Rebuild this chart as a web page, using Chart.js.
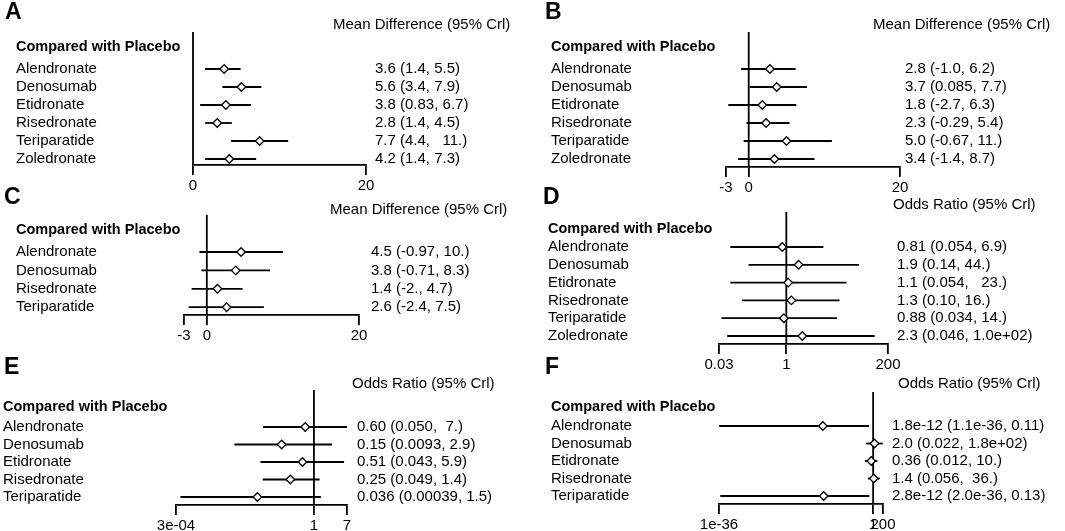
<!DOCTYPE html>
<html>
<head>
<meta charset="utf-8">
<script src="https://cdn.jsdelivr.net/npm/chart.js@4.4.1/dist/chart.umd.min.js"></script>
<style>
  html, body { margin: 0; padding: 0; background: #fff; }
  #wrap { position: relative; width: 1065px; height: 531px; overflow: hidden; }
  #wrap canvas { position: absolute; }
</style>
</head>
<body>
<div id="wrap"></div>
<script>
const FONT = '"Liberation Sans", Arial, sans-serif';

// A - mean difference
const aNames = ['Alendronate', 'Denosumab', 'Etidronate', 'Risedronate', 'Teriparatide', 'Zoledronate'];
const aMean = [3.6, 5.6, 3.8, 2.8, 7.7, 4.2];
const aLow = [1.4, 3.4, 0.83, 1.4, 4.4, 1.4];
const aHigh = [5.5, 7.9, 6.7, 4.5, 11, 7.3];
const aText = ['3.6 (1.4, 5.5)', '5.6 (3.4, 7.9)', '3.8 (0.83, 6.7)', '2.8 (1.4, 4.5)', '7.7 (4.4,   11.)', '4.2 (1.4, 7.3)'];
const aTicks = [0, 20];
const aTickLabels = ['0', '20'];

// B - mean difference
const bNames = ['Alendronate', 'Denosumab', 'Etidronate', 'Risedronate', 'Teriparatide', 'Zoledronate'];
const bMean = [2.8, 3.7, 1.8, 2.3, 5.0, 3.4];
const bLow = [-1.0, 0.085, -2.7, -0.29, -0.67, -1.4];
const bHigh = [6.2, 7.7, 6.3, 5.4, 11, 8.7];
const bText = ['2.8 (-1.0, 6.2)', '3.7 (0.085, 7.7)', '1.8 (-2.7, 6.3)', '2.3 (-0.29, 5.4)', '5.0 (-0.67, 11.)', '3.4 (-1.4, 8.7)'];
const bTicks = [-3, 0, 20];
const bTickLabels = ['-3', '0', '20'];

// C - mean difference
const cNames = ['Alendronate', 'Denosumab', 'Risedronate', 'Teriparatide'];
const cMean = [4.5, 3.8, 1.4, 2.6];
const cLow = [-0.97, -0.71, -2, -2.4];
const cHigh = [10, 8.3, 4.7, 7.5];
const cText = ['4.5 (-0.97, 10.)', '3.8 (-0.71, 8.3)', '1.4 (-2., 4.7)', '2.6 (-2.4, 7.5)'];
const cTicks = [-3, 0, 20];
const cTickLabels = ['-3', '0', '20'];

// D - odds ratio
const dNames = ['Alendronate', 'Denosumab', 'Etidronate', 'Risedronate', 'Teriparatide', 'Zoledronate'];
const dMean = [0.81, 1.9, 1.1, 1.3, 0.88, 2.3];
const dLow = [0.054, 0.14, 0.054, 0.10, 0.034, 0.046];
const dHigh = [6.9, 44, 23, 16, 14, 100];
const dText = ['0.81 (0.054, 6.9)', '1.9 (0.14, 44.)', '1.1 (0.054,   23.)', '1.3 (0.10, 16.)', '0.88 (0.034, 14.)', '2.3 (0.046, 1.0e+02)'];
const dTicks = [0.03, 1, 200];
const dTickLabels = ['0.03', '1', '200'];

// E - odds ratio
const eNames = ['Alendronate', 'Denosumab', 'Etidronate', 'Risedronate', 'Teriparatide'];
const eMean = [0.60, 0.15, 0.51, 0.25, 0.036];
const eLow = [0.050, 0.0093, 0.043, 0.049, 0.00039];
const eHigh = [7, 2.9, 5.9, 1.4, 1.5];
const eText = ['0.60 (0.050,  7.)', '0.15 (0.0093, 2.9)', '0.51 (0.043, 5.9)', '0.25 (0.049, 1.4)', '0.036 (0.00039, 1.5)'];
const eTicks = [3e-4, 1, 7];
const eTickLabels = ['3e-04', '1', '7'];

// F - odds ratio
const fNames = ['Alendronate', 'Denosumab', 'Etidronate', 'Risedronate', 'Teriparatide'];
const fMean = [1.8e-12, 2.0, 0.36, 1.4, 2.8e-12];
const fLow = [1.1e-36, 0.022, 0.012, 0.056, 2.0e-36];
const fHigh = [0.11, 180, 10, 36, 0.13];
const fText = ['1.8e-12 (1.1e-36, 0.11)', '2.0 (0.022, 1.8e+02)', '0.36 (0.012, 10.)', '1.4 (0.056,  36.)', '2.8e-12 (2.0e-36, 0.13)'];
const fTicks = [1e-36, 1, 200];
const fTickLabels = ['1e-36', '1', '200'];

const MD = 'Mean Difference (95% Crl)';
const OR = 'Odds Ratio (95% Crl)';

// page layout of each panel (pixels): box = canvas, area = plot area
const panels = [
  { letter: 'A', head: MD, log: false, ref: 0, names: aNames, mean: aMean, low: aLow, high: aHigh, text: aText, ticks: aTicks, tickLabels: aTickLabels,
    box: [0, 0, 530, 196], area: [193, 366, 32, 165], rowTop: 69, rowGap: 18, labelX: 16, valueX: 375, headX: 333, headY: 25, compY: 47, letterX: 5, letterY: 13 },
  { letter: 'B', head: MD, log: false, ref: 0, names: bNames, mean: bMean, low: bLow, high: bHigh, text: bText, ticks: bTicks, tickLabels: bTickLabels,
    box: [530, 0, 535, 196], area: [726, 900, 32, 167], rowTop: 69, rowGap: 18, labelX: 551, valueX: 905, headX: 873, headY: 25, compY: 47, letterX: 545, letterY: 13 },
  { letter: 'C', head: MD, log: false, ref: 0, names: cNames, mean: cMean, low: cLow, high: cHigh, text: cText, ticks: cTicks, tickLabels: cTickLabels,
    box: [0, 186, 530, 160], area: [184, 359, 215, 315], rowTop: 252, rowGap: 18.4, labelX: 16, valueX: 371, headX: 330, headY: 210, compY: 230, letterX: 4, letterY: 198 },
  { letter: 'D', head: OR, log: true, ref: 1, names: dNames, mean: dMean, low: dLow, high: dHigh, text: dText, ticks: dTicks, tickLabels: dTickLabels,
    box: [530, 186, 535, 186], area: [719, 888, 212, 344], rowTop: 247, rowGap: 17.8, labelX: 548, valueX: 897, headX: 893, headY: 205, compY: 229, letterX: 543, letterY: 198 },
  { letter: 'E', head: OR, log: true, ref: 1, names: eNames, mean: eMean, low: eLow, high: eHigh, text: eText, ticks: eTicks, tickLabels: eTickLabels,
    box: [0, 356, 530, 175], area: [176, 347, 390, 505], rowTop: 427, rowGap: 17.5, labelX: 3, valueX: 357, headX: 352, headY: 384, compY: 407, letterX: 4, letterY: 368 },
  { letter: 'F', head: OR, log: true, ref: 1, names: fNames, mean: fMean, low: fLow, high: fHigh, text: fText, ticks: fTicks, tickLabels: fTickLabels,
    box: [530, 356, 535, 175], area: [719, 883, 392, 504], rowTop: 426, rowGap: 17.5, labelX: 551, valueX: 892, headX: 898, headY: 384, compY: 407, letterX: 545, letterY: 368 }
];

// panel letter, column header and "Compared with Placebo"
const panelText = {
  id: 'panelText',
  afterDraw(chart, args, o) {
    const c = chart.ctx;
    c.save();
    c.fillStyle = '#000';
    c.textBaseline = 'middle';
    c.textAlign = 'left';
    c.font = 'bold 23px ' + FONT;
    c.fillText(o.letter, o.letterX, o.letterY);
    c.font = 'bold 14.5px ' + FONT;
    c.fillText('Compared with Placebo', o.compX, o.compY);
    c.font = '15px ' + FONT;
    c.fillText(o.head, o.headX, o.headY);
    c.restore();
  }
};

const wrap = document.getElementById('wrap');

function makePanel(p) {
  const [bx, by, bw, bh] = p.box;
  const [ax0, ax1, ay0, ay1] = p.area;
  const cv = document.createElement('canvas');
  cv.width = bw;
  cv.height = bh;
  cv.style.left = bx + 'px';
  cv.style.top = by + 'px';
  cv.style.width = bw + 'px';
  cv.style.height = bh + 'px';
  wrap.appendChild(cv);

  const yMin = 1 - (p.rowTop - ay0) / p.rowGap;
  const yMax = 1 + (ay1 - p.rowTop) / p.rowGap;
  const rows = p.names.map((n, i) => i + 1);
  const lineStyle = { showLine: true, pointRadius: 0, borderColor: '#000', borderWidth: 1.8, clip: false };

  const datasets = [{
    data: p.mean.map((m, i) => ({ x: m, y: rows[i] })),
    pointStyle: 'rectRot', pointRadius: 4.3,
    pointBackgroundColor: '#fff', pointBorderColor: '#000', pointBorderWidth: 1.3,
    order: 0, clip: false
  }];
  p.low.forEach((lo, i) => {
    datasets.push({ ...lineStyle, data: [{ x: lo, y: rows[i] }, { x: p.high[i], y: rows[i] }], order: 1 });
  });
  datasets.push({ ...lineStyle, data: [{ x: p.ref, y: yMin }, { x: p.ref, y: yMax }], order: 2 });

  const tickFont = { family: FONT, size: 15 };
  const yAxis = (pos, labels, width, pad, align) => ({
    type: 'linear', position: pos, reverse: true, min: yMin, max: yMax, bounds: 'data',
    afterBuildTicks: s => { s.ticks = rows.map(v => ({ value: v })); },
    afterFit: s => { s.width = width; },
    grid: { display: false, drawTicks: false },
    border: { display: false },
    ticks: { autoSkip: false, crossAlign: align, padding: pad, color: '#000', font: tickFont,
      callback: (v, i) => labels[i] }
  });

  new Chart(cv, {
    type: 'scatter',
    data: { datasets },
    plugins: [panelText],
    options: {
      responsive: false,
      animation: false,
      events: [],
      layout: { padding: { left: p.labelX - bx, top: ay0 - by, right: 0, bottom: 0 } },
      plugins: {
        legend: { display: false },
        tooltip: { enabled: false },
        panelText: {
          letter: p.letter, letterX: p.letterX - bx, letterY: p.letterY - by,
          head: p.head, headX: p.headX - bx, headY: p.headY - by,
          compX: p.labelX - bx, compY: p.compY - by
        }
      },
      scales: {
        x: {
          type: p.log ? 'logarithmic' : 'linear', position: 'bottom',
          min: p.ticks[0], max: p.ticks[p.ticks.length - 1], bounds: 'data',
          afterBuildTicks: s => { s.ticks = p.ticks.map(v => ({ value: v })); },
          afterFit: s => { s.height = by + bh - ay1; },
          grid: { drawOnChartArea: false, drawTicks: true, tickLength: 10, color: '#000', lineWidth: 1.8 },
          border: { display: true, color: '#000', width: 1.8 },
          ticks: { autoSkip: false, maxRotation: 0, minRotation: 0, padding: 2, color: '#000', font: tickFont,
            callback: (v, i) => p.tickLabels[i] }
        },
        y: yAxis('left', p.names, ax0 - p.labelX, 0, 'far'),
        y2: yAxis('right', p.text, bx + bw - ax1, p.valueX - ax1, 'near')
      }
    }
  });
}

panels.forEach(makePanel);
</script>
</body>
</html>
